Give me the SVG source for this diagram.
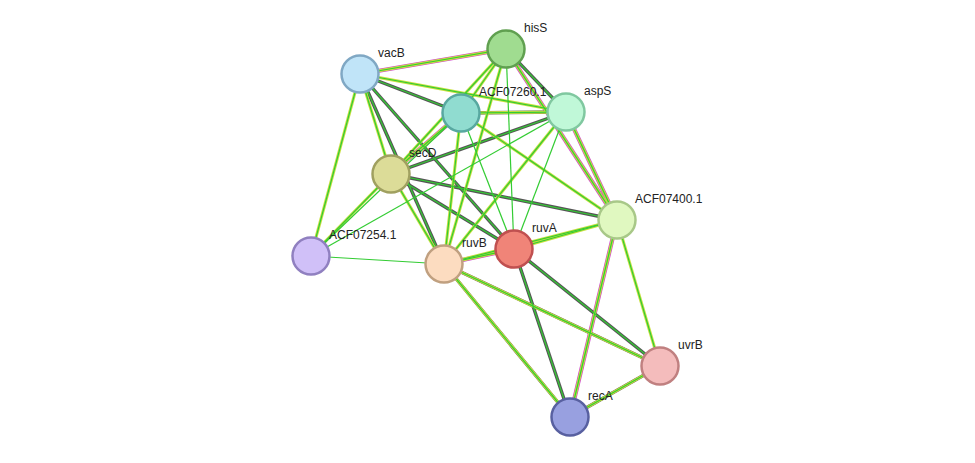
<svg xmlns="http://www.w3.org/2000/svg" width="975" height="463" viewBox="0 0 975 463">
<style>
.e{stroke:#3c3;stroke-width:1.2;fill:none}
.y{stroke:#c8e040;stroke-width:3;fill:none}
.d{stroke:#555;stroke-width:3.4;fill:none}
.m{stroke:#d040d0;stroke-width:4.2;fill:none}
.n{stroke-width:2.5}
text{font-family:"Liberation Sans",Arial,sans-serif;font-size:12px;fill:#222}
</style>
<rect width="975" height="463" fill="#fff"/>
<g id="connectors">
<g class="m">
<line x1="360" y1="74" x2="506" y2="49"/><line x1="506" y1="49" x2="617" y2="220"/><line x1="566" y1="112" x2="617" y2="220"/><line x1="461" y1="113" x2="391" y2="174"/><line x1="444" y1="264" x2="514" y2="249"/><line x1="617" y1="220" x2="570" y2="417"/>
</g>
<g class="d">
<line x1="360" y1="74" x2="461" y2="113"/><line x1="360" y1="74" x2="514" y2="249"/><line x1="360" y1="74" x2="444" y2="264"/><line x1="506" y1="49" x2="566" y2="112"/><line x1="391" y1="174" x2="617" y2="220"/><line x1="461" y1="113" x2="566" y2="112"/><line x1="444" y1="264" x2="570" y2="417"/><line x1="514" y1="249" x2="570" y2="417"/><line x1="444" y1="264" x2="660" y2="366"/><line x1="514" y1="249" x2="660" y2="366"/><line x1="660" y1="366" x2="570" y2="417"/><line x1="391" y1="174" x2="514" y2="249"/><line x1="566" y1="112" x2="391" y2="174"/>
</g>
<g class="y">
<line x1="360" y1="74" x2="506" y2="49"/><line x1="360" y1="74" x2="566" y2="112"/><line x1="360" y1="74" x2="391" y2="174"/><line x1="360" y1="74" x2="311" y2="256"/><line x1="506" y1="49" x2="461" y2="113"/><line x1="506" y1="49" x2="391" y2="174"/><line x1="506" y1="49" x2="444" y2="264"/><line x1="506" y1="49" x2="617" y2="220"/><line x1="461" y1="113" x2="566" y2="112"/><line x1="461" y1="113" x2="391" y2="174"/><line x1="461" y1="113" x2="444" y2="264"/><line x1="461" y1="113" x2="617" y2="220"/><line x1="566" y1="112" x2="617" y2="220"/><line x1="566" y1="112" x2="444" y2="264"/><line x1="391" y1="174" x2="444" y2="264"/><line x1="391" y1="174" x2="311" y2="256"/><line x1="444" y1="264" x2="514" y2="249"/><line x1="444" y1="264" x2="617" y2="220"/><line x1="514" y1="249" x2="617" y2="220"/><line x1="617" y1="220" x2="570" y2="417"/><line x1="617" y1="220" x2="660" y2="366"/><line x1="444" y1="264" x2="570" y2="417"/><line x1="444" y1="264" x2="660" y2="366"/><line x1="660" y1="366" x2="570" y2="417"/>
</g>
<g class="e">
<line x1="360" y1="74" x2="506" y2="49"/><line x1="360" y1="74" x2="461" y2="113"/><line x1="360" y1="74" x2="566" y2="112"/><line x1="360" y1="74" x2="391" y2="174"/><line x1="360" y1="74" x2="311" y2="256"/><line x1="360" y1="74" x2="444" y2="264"/><line x1="360" y1="74" x2="514" y2="249"/>
<line x1="506" y1="49" x2="461" y2="113"/><line x1="506" y1="49" x2="566" y2="112"/><line x1="506" y1="49" x2="391" y2="174"/><line x1="506" y1="49" x2="444" y2="264"/><line x1="506" y1="49" x2="514" y2="249"/><line x1="506" y1="49" x2="617" y2="220"/>
<line x1="461" y1="113" x2="566" y2="112"/><line x1="461" y1="113" x2="391" y2="174"/><line x1="461" y1="113" x2="311" y2="256"/><line x1="461" y1="113" x2="444" y2="264"/><line x1="461" y1="113" x2="514" y2="249"/><line x1="461" y1="113" x2="617" y2="220"/>
<line x1="566" y1="112" x2="391" y2="174"/><line x1="566" y1="112" x2="617" y2="220"/><line x1="566" y1="112" x2="444" y2="264"/><line x1="566" y1="112" x2="514" y2="249"/><line x1="566" y1="112" x2="311" y2="256"/>
<line x1="391" y1="174" x2="617" y2="220"/><line x1="391" y1="174" x2="444" y2="264"/><line x1="391" y1="174" x2="514" y2="249"/><line x1="391" y1="174" x2="311" y2="256"/>
<line x1="311" y1="256" x2="444" y2="264"/>
<line x1="444" y1="264" x2="514" y2="249"/><line x1="444" y1="264" x2="617" y2="220"/><line x1="444" y1="264" x2="570" y2="417"/><line x1="444" y1="264" x2="660" y2="366"/>
<line x1="514" y1="249" x2="617" y2="220"/><line x1="514" y1="249" x2="570" y2="417"/><line x1="514" y1="249" x2="660" y2="366"/>
<line x1="617" y1="220" x2="570" y2="417"/><line x1="617" y1="220" x2="660" y2="366"/><line x1="660" y1="366" x2="570" y2="417"/>
</g>
</g>
<g id="vacB"><circle class="n" cx="360" cy="74" r="18.5" fill="#c0e4f8" stroke="#80a8c4"/><text x="378" y="57">vacB</text></g>
<g id="hisS"><circle class="n" cx="506" cy="49" r="18.5" fill="#a0dc90" stroke="#60a050"/><text x="524" y="32">hisS</text></g>
<g id="ACF07260.1"><circle class="n" cx="461" cy="113" r="18.5" fill="#90dcd0" stroke="#58a8a0"/><text x="479" y="96">ACF07260.1</text></g>
<g id="aspS"><circle class="n" cx="566" cy="112" r="18.5" fill="#c0f8d8" stroke="#80c8a0"/><text x="584" y="95">aspS</text></g>
<g id="secD"><circle class="n" cx="391" cy="174" r="18.5" fill="#dcdc98" stroke="#a0a060"/><text x="409" y="157">secD</text></g>
<g id="ACF07400.1"><circle class="n" cx="617" cy="220" r="18.5" fill="#e0f8c0" stroke="#a8c888"/><text x="635" y="203">ACF07400.1</text></g>
<g id="ACF07254.1"><circle class="n" cx="311" cy="256" r="18.5" fill="#d0c0f8" stroke="#9080c0"/><text x="329" y="239">ACF07254.1</text></g>
<g id="ruvB"><circle class="n" cx="444" cy="264" r="18.5" fill="#fcdcc0" stroke="#c0a080"/><text x="462" y="247">ruvB</text></g>
<g id="ruvA"><circle class="n" cx="514" cy="249" r="18.5" fill="#f08478" stroke="#c05050"/><text x="532" y="232">ruvA</text></g>
<g id="uvrB"><circle class="n" cx="660" cy="366" r="18.5" fill="#f4bcbc" stroke="#c08080"/><text x="678" y="349">uvrB</text></g>
<g id="recA"><circle class="n" cx="570" cy="417" r="18.5" fill="#98a0e0" stroke="#5860a0"/><text x="588" y="400">recA</text></g>
</svg>
